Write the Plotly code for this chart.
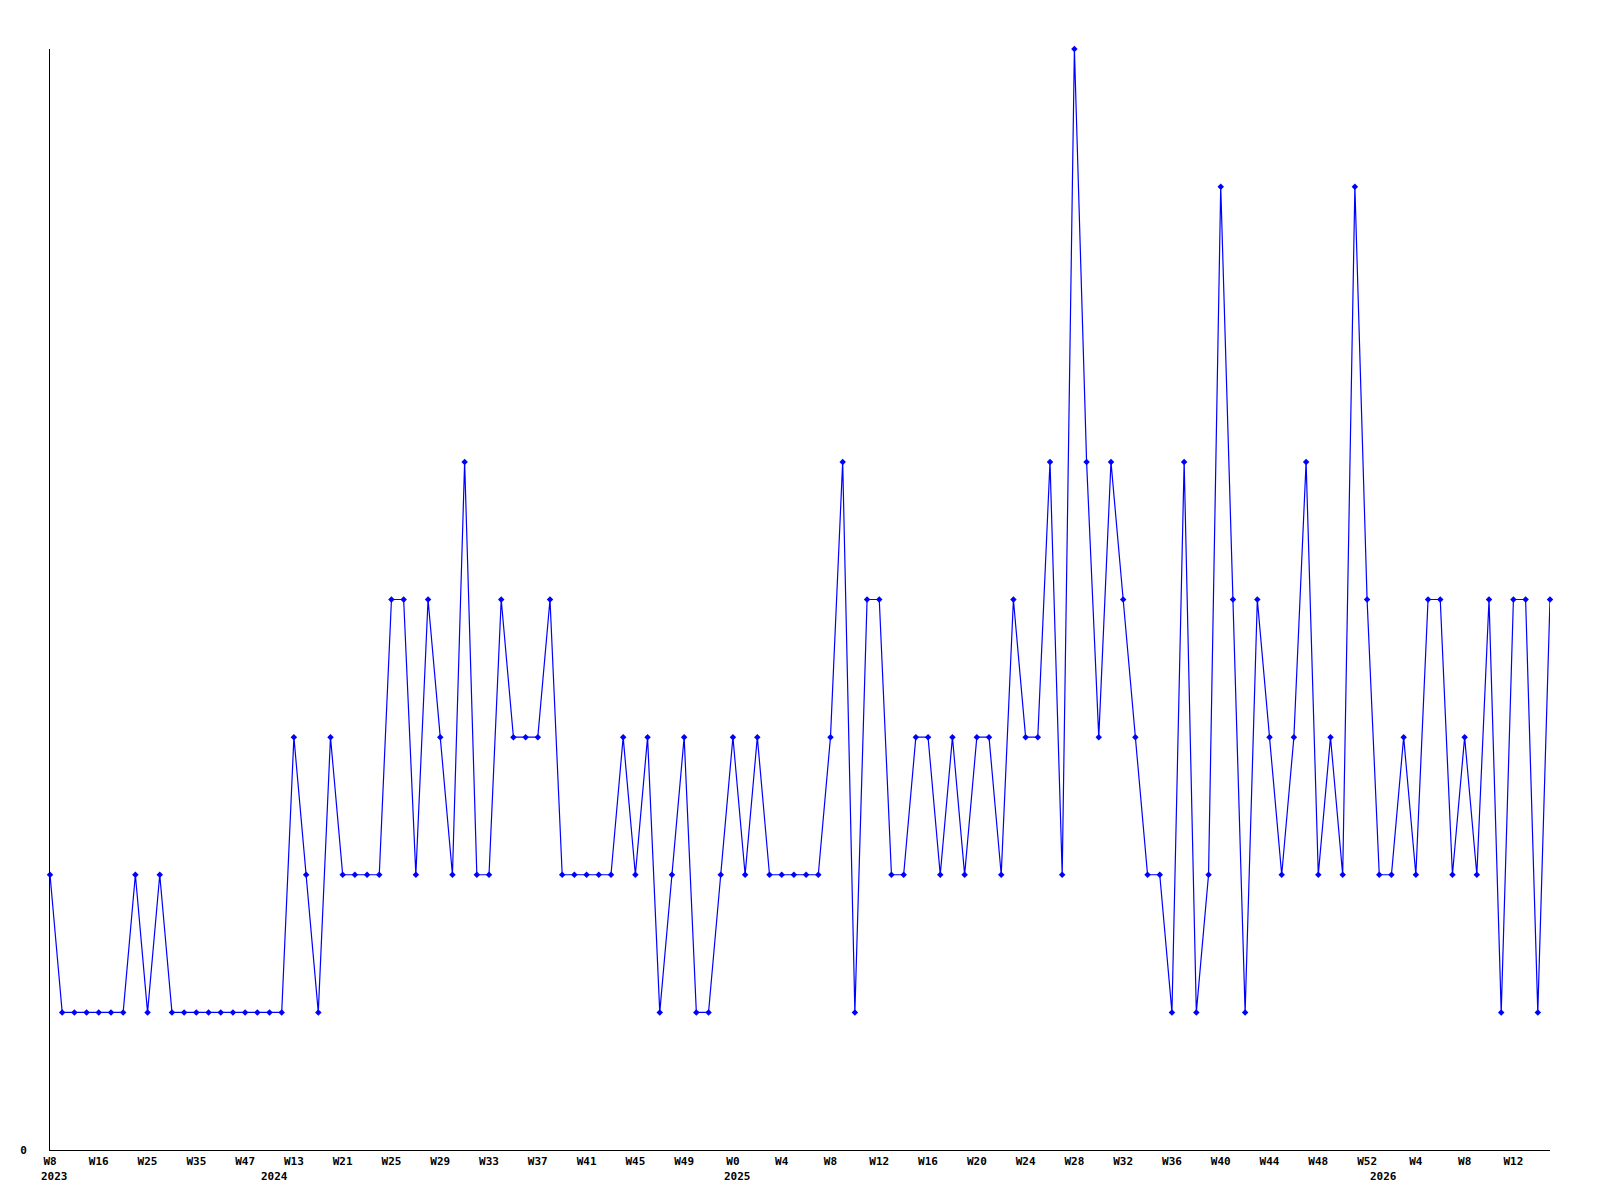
import plotly.graph_objects as go

# weekly counts, one per plotted week (oldest first)
COUNTS = [
    2, 1, 1, 1, 1, 1, 1, 2, 1, 2, 1, 1, 1, 1, 1, 1, 1, 1, 1, 1, 3,
    2, 1, 3, 2, 2, 2, 2, 4, 4, 2, 4, 3, 2, 5, 2, 2, 4, 3, 3, 3, 4,
    2, 2, 2, 2, 2, 3, 2, 3, 1, 2, 3, 1, 1, 2, 3, 2, 3, 2, 2, 2,
    2, 2, 3, 5, 1, 4, 4, 2, 2, 3, 3, 2, 3, 2, 3, 3, 2, 4, 3, 3, 5,
    2, 8, 5, 3, 5, 4, 3, 2, 2, 1, 5, 1, 2, 7, 4, 1, 4, 3, 2, 3,
    5, 2, 3, 2, 7, 4, 2, 2, 3, 2, 4, 4, 2, 3, 2, 4, 1, 4, 4, 1, 4,
]

# labels shown on every 4th week
WEEK_TICKS = [
    "W8", "W16", "W25", "W35", "W47", "W13", "W21", "W25", "W29", "W33", "W37",
    "W41", "W45", "W49", "W0", "W4", "W8", "W12", "W16", "W20", "W24", "W28",
    "W32", "W36", "W40", "W44", "W48", "W52", "W4", "W8", "W12",
]
TICK_STEP = 4

YEARS = ["2023", "2024", "2025", "2026"]
YEAR_START = [0, 18, 56, 109]

FONT = dict(family="DejaVu Sans Mono", size=11, color="#000000", weight="bold")

x = list(range(len(COUNTS)))

fig = go.Figure(go.Scatter(
    x=x, y=COUNTS, mode="lines+markers",
    line=dict(color="#0000FF", width=1.2),
    marker=dict(color="#0000FF", size=5, symbol="diamond"),
    cliponaxis=False,
    showlegend=False,
))

for year, pos in zip(YEARS, YEAR_START):
    fig.add_annotation(
        x=pos, y=0, xref="x", yref="paper", text=year, showarrow=False,
        xanchor="left", yanchor="middle", xshift=-11, yshift=-26, font=FONT,
    )

# page body adds an 8px margin, so the plot area is pulled up/left by that
fig.update_layout(
    width=1600, height=1200,
    paper_bgcolor="#FFFFFF", plot_bgcolor="#FFFFFF",
    margin=dict(l=42, r=58, t=41, b=58),
    font=FONT,
    xaxis=dict(
        range=[0, len(COUNTS) - 1], showgrid=False, zeroline=False,
        showline=True, linecolor="#000000", linewidth=1,
        tickvals=list(range(0, len(COUNTS), TICK_STEP)), ticktext=WEEK_TICKS,
        ticks="", tickangle=0, tickfont=FONT, ticklabelstandoff=1,
    ),
    yaxis=dict(
        range=[0, max(COUNTS)], showgrid=False, zeroline=False,
        showline=True, linecolor="#000000", linewidth=1,
        tickvals=[0], ticktext=["0"], ticks="", tickfont=FONT,
        ticklabelstandoff=20,
    ),
)

fig.write_html("out.html")
